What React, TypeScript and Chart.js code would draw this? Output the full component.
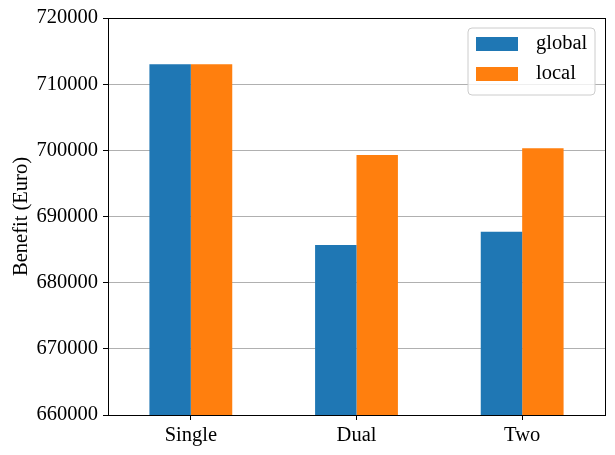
import React, { useEffect, useRef } from "react";
import { Chart, registerables } from "chart.js";

Chart.register(...registerables);

const categories = ["Single", "Dual", "Two"];
const globalValues = [713000, 685700, 687700];
const localValues = [713000, 699300, 700300];
const yTicks = [660000, 670000, 680000, 690000, 700000, 710000, 720000];

const FONT = "'Liberation Serif', 'Times New Roman', serif";
const FS = 20.5;

const framePlugin = {
  id: "frameAndLegend",
  afterDraw(chart: any) {
    const { ctx, chartArea } = chart;
    ctx.save();
    ctx.strokeStyle = "#000";
    ctx.lineWidth = 1;
    ctx.strokeRect(
      Math.round(chartArea.left) + 0.5,
      Math.round(chartArea.top) + 0.5,
      Math.round(chartArea.right - chartArea.left),
      Math.round(chartArea.bottom - chartArea.top)
    );
    const bx = 468, by = 28, bw = 127, bh = 67, r = 4;
    ctx.beginPath();
    ctx.moveTo(bx + r, by);
    ctx.lineTo(bx + bw - r, by);
    ctx.arcTo(bx + bw, by, bx + bw, by + r, r);
    ctx.lineTo(bx + bw, by + bh - r);
    ctx.arcTo(bx + bw, by + bh, bx + bw - r, by + bh, r);
    ctx.lineTo(bx + r, by + bh);
    ctx.arcTo(bx, by + bh, bx, by + bh - r, r);
    ctx.lineTo(bx, by + r);
    ctx.arcTo(bx, by, bx + r, by, r);
    ctx.closePath();
    ctx.fillStyle = "rgba(255,255,255,0.8)";
    ctx.fill();
    ctx.strokeStyle = "#cccccc";
    ctx.lineWidth = 1;
    ctx.stroke();
    const ds = chart.data.datasets;
    ctx.font = `${FS}px ${FONT}`;
    ctx.textBaseline = "middle";
    ctx.textAlign = "left";
    ds.forEach((d: any, i: number) => {
      const y = 37 + i * 30;
      ctx.fillStyle = d.backgroundColor;
      ctx.fillRect(476, y, 42, 14);
      ctx.fillStyle = "#000";
      ctx.fillText(d.label, 536, y + 7);
    });
    ctx.restore();
  },
};

export default function App() {
  const ref = useRef<HTMLCanvasElement>(null);
  useEffect(() => {
    document.body.style.margin = "0";
    const chart = new Chart(ref.current!, {
      type: "bar",
      data: {
        labels: categories,
        datasets: [
          { label: "global", data: globalValues, backgroundColor: "#1f77b4" },
          { label: "local", data: localValues, backgroundColor: "#ff7f0e" },
        ],
      },
      options: {
        animation: false,
        responsive: false,
        devicePixelRatio: 1,
        layout: { padding: { left: 0, top: 18, right: 10, bottom: 0 } },
        datasets: { bar: { categoryPercentage: 0.5, barPercentage: 1.0 } },
        plugins: { legend: { display: false }, tooltip: { enabled: false } },
        scales: {
          x: {
            afterFit: (s: any) => { s.height = 40; },
            grid: {
              display: true,
              drawOnChartArea: false,
              drawTicks: true,
              tickLength: 5,
              tickColor: "#000",
              offset: false,
            },
            border: { display: false },
            ticks: { color: "#000", font: { family: FONT, size: FS }, padding: 3 },
          },
          y: {
            min: 660000,
            max: 720000,
            z: 1,
            afterFit: (s: any) => { s.width = 108; },
            afterBuildTicks: (s: any) => { s.ticks = yTicks.map((v) => ({ value: v })); },
            grid: {
              color: "#b0b0b0",
              lineWidth: 1,
              tickLength: 5,
              tickColor: "#000",
            },
            border: { display: false },
            ticks: {
              color: "#000",
              font: { family: FONT, size: FS },
              padding: 5,
              callback: (v: any) => String(v),
            },
            title: {
              display: true,
              text: "Benefit (Euro)",
              color: "#000",
              font: { family: FONT, size: FS },
              padding: { top: 9, bottom: 0 },
            },
          },
        },
      },
      plugins: [framePlugin],
    });
    return () => chart.destroy();
  }, []);
  return <canvas ref={ref} width={615} height={455} style={{ display: "block" }} />;
}
